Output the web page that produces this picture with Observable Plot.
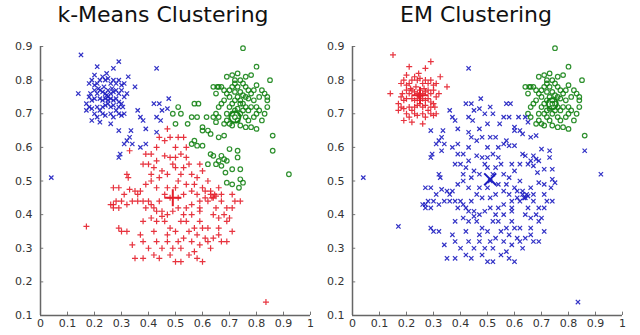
<!DOCTYPE html>
<html>
<head>
<meta charset="utf-8">
<script src="https://cdn.jsdelivr.net/npm/d3@7"></script>
<script src="https://cdn.jsdelivr.net/npm/@observablehq/plot@0.6"></script>
<style>
  html, body { margin: 0; padding: 0; background: #fff; }
  #wrap { position: relative; width: 640px; height: 335px; overflow: hidden; font-family: "DejaVu Sans", sans-serif; }
  .title { position: absolute; top: 0px; font-size: 22px; color: #111; white-space: nowrap; transform: translateX(-50%); line-height: 30px; }
  .panel { position: absolute; top: 0; }
</style>
</head>
<body>
<div id="wrap">
  <div class="title" id="t1" style="left:163px"></div>
  <div class="title" id="t2" style="left:476px"></div>
  <div class="panel" id="p1" style="left:0px"></div>
  <div class="panel" id="p2" style="left:320px"></div>
</div>
<script>
// ---- Data ----
const titles = ["k-Means Clustering", "EM Clustering"];
const xTicks = [0, 0.1, 0.2, 0.3, 0.4, 0.5, 0.6, 0.7, 0.8, 0.9, 1];
const xTickLabels = ["0", "0.1", "0.2", "0.3", "0.4", "0.5", "0.6", "0.7", "0.8", "0.9", "1"];
const yTicks = [0.1, 0.2, 0.3, 0.4, 0.5, 0.6, 0.7, 0.8, 0.9];
const yTickLabels = ["0.1", "0.2", "0.3", "0.4", "0.5", "0.6", "0.7", "0.8", "0.9"];

// top-left tight cluster
const groupA = [[0.15,0.875],[0.29,0.855],[0.21,0.84],[0.27,0.835],[0.245,0.82],[0.2,0.815],[0.325,0.81],[0.35,0.78],[0.14,0.76],[0.17,0.73],[0.19,0.68],[0.22,0.675],[0.26,0.67],[0.3,0.695],[0.31,0.70],[0.29,0.72],[0.32,0.76],
  [0.18,0.79],[0.19,0.80],[0.2,0.785],[0.21,0.79],[0.22,0.80],[0.23,0.81],[0.24,0.80],[0.25,0.805],[0.26,0.79],[0.27,0.80],[0.28,0.79],[0.29,0.80],[0.30,0.785],[0.31,0.79],
  [0.2,0.77],[0.21,0.76],[0.22,0.77],[0.23,0.765],[0.24,0.76],[0.25,0.77],[0.26,0.76],[0.27,0.765],[0.28,0.77],[0.29,0.76],[0.3,0.77],[0.31,0.75],
  [0.18,0.75],[0.19,0.74],[0.2,0.745],[0.22,0.745],[0.23,0.74],[0.24,0.745],[0.25,0.74],[0.26,0.745],[0.27,0.74],[0.28,0.745],[0.29,0.735],[0.3,0.73],
  [0.17,0.71],[0.18,0.72],[0.19,0.715],[0.21,0.72],[0.22,0.71],[0.23,0.72],[0.24,0.725],[0.25,0.73],[0.26,0.72],[0.27,0.725],[0.28,0.71],
  [0.2,0.70],[0.21,0.69],[0.23,0.70],[0.24,0.695],[0.26,0.70],[0.27,0.69],[0.29,0.70],[0.25,0.75],[0.245,0.755],[0.235,0.78],[0.265,0.775],[0.215,0.775],[0.185,0.76],[0.305,0.72]];
// top-right tight cluster
const groupB = [[0.75,0.895],[0.80,0.84],[0.85,0.80],[0.86,0.635],[0.78,0.815],[0.71,0.815],[0.69,0.81],[0.73,0.82],[0.66,0.78],[0.64,0.78],[0.655,0.78],[0.65,0.76],[0.67,0.78],[0.68,0.77],
  [0.83,0.76],[0.82,0.77],[0.84,0.75],[0.84,0.74],[0.84,0.72],[0.83,0.70],[0.82,0.68],[0.81,0.71],[0.80,0.72],[0.80,0.70],[0.79,0.69],[0.78,0.66],[0.8,0.655],[0.76,0.66],[0.74,0.665],
  [0.73,0.68],[0.72,0.69],[0.71,0.665],[0.70,0.67],[0.69,0.68],[0.68,0.67],[0.66,0.69],[0.65,0.70],[0.69,0.70],[0.70,0.72],[0.71,0.73],[0.72,0.74],[0.73,0.75],[0.74,0.74],
  [0.75,0.73],[0.76,0.72],[0.77,0.71],[0.78,0.72],[0.79,0.74],[0.78,0.76],[0.77,0.77],[0.76,0.78],[0.75,0.79],[0.74,0.80],[0.72,0.79],[0.71,0.78],[0.70,0.77],[0.69,0.76],
  [0.70,0.75],[0.72,0.765],[0.73,0.78],[0.74,0.765],[0.75,0.755],[0.76,0.75],[0.77,0.745],[0.75,0.71],[0.74,0.70],[0.73,0.715],[0.72,0.71],[0.76,0.69],[0.77,0.68],
  [0.71,0.70],[0.68,0.74],[0.67,0.73],[0.66,0.72],[0.72,0.80],[0.76,0.81],[0.8,0.785],[0.81,0.75],[0.79,0.77],[0.74,0.73]];
// bridge points between top-left cluster and centre
const groupC = [[0.43,0.835],[0.42,0.73],[0.44,0.73],[0.475,0.745],[0.47,0.715],[0.45,0.71],[0.36,0.71],[0.37,0.69],[0.38,0.68],[0.43,0.69],[0.445,0.68],
  [0.39,0.655],[0.335,0.65],[0.43,0.645],[0.33,0.63],[0.32,0.62],[0.34,0.61],[0.31,0.61],[0.29,0.65],[0.37,0.60],[0.39,0.61],[0.29,0.57],[0.295,0.58],[0.04,0.51]];
// bridge points between top-right cluster and centre
const groupD = [[0.51,0.72],[0.57,0.73],[0.585,0.73],[0.49,0.70],[0.52,0.70],[0.56,0.69],[0.58,0.69],[0.50,0.67],[0.545,0.67],[0.615,0.69],[0.64,0.69],
  [0.60,0.66],[0.60,0.65],[0.62,0.65],[0.65,0.675],[0.63,0.64],[0.66,0.63],[0.68,0.635],
  [0.56,0.61],[0.58,0.605],[0.60,0.605],[0.57,0.62],[0.63,0.58],[0.64,0.575],[0.67,0.575],[0.68,0.565],[0.66,0.56],[0.69,0.56],
  [0.62,0.55],[0.65,0.55],[0.67,0.545],[0.685,0.525],[0.71,0.535],[0.74,0.535],[0.70,0.595],[0.73,0.59],[0.73,0.57],
  [0.69,0.495],[0.71,0.49],[0.735,0.48],[0.75,0.495],[0.74,0.505],[0.86,0.59],[0.92,0.52]];
// central cluster
const groupE = [[0.47,0.655],[0.44,0.63],[0.48,0.63],[0.51,0.63],[0.53,0.63],[0.46,0.62],[0.50,0.60],[0.43,0.60],[0.41,0.58],[0.39,0.58],[0.46,0.575],[0.48,0.57],[0.50,0.57],[0.52,0.58],[0.54,0.60],[0.54,0.57],
  [0.40,0.55],[0.43,0.56],[0.50,0.54],[0.53,0.54],[0.45,0.53],[0.41,0.52],[0.47,0.52],[0.59,0.55],[0.60,0.53],[0.62,0.50],[0.58,0.51],[0.56,0.52],[0.51,0.50],[0.54,0.49],
  [0.27,0.48],[0.29,0.48],[0.32,0.52],[0.325,0.51],[0.33,0.475],[0.35,0.47],[0.36,0.46],[0.34,0.44],[0.36,0.44],[0.38,0.44],[0.40,0.44],[0.41,0.43],[0.43,0.41],[0.45,0.41],[0.47,0.40],
  [0.48,0.45],[0.51,0.45],[0.53,0.46],[0.56,0.47],[0.58,0.46],[0.61,0.47],[0.63,0.46],[0.64,0.45],[0.62,0.44],[0.67,0.46],[0.71,0.46],[0.72,0.44],[0.74,0.44],[0.69,0.42],[0.68,0.40],[0.70,0.39],
  [0.64,0.40],[0.59,0.41],[0.56,0.43],[0.54,0.42],[0.51,0.42],[0.46,0.38],[0.48,0.36],[0.52,0.38],[0.54,0.38],[0.57,0.36],[0.59,0.38],[0.62,0.36],[0.66,0.36],[0.69,0.38],[0.71,0.35],
  [0.29,0.36],[0.30,0.35],[0.32,0.35],[0.27,0.43],[0.28,0.44],[0.29,0.42],[0.30,0.44],[0.26,0.43],[0.27,0.42],
  [0.34,0.31],[0.37,0.34],[0.38,0.32],[0.40,0.30],[0.35,0.27],[0.38,0.27],[0.42,0.35],[0.43,0.32],[0.45,0.30],[0.42,0.28],[0.44,0.27],[0.47,0.32],[0.49,0.30],[0.50,0.26],[0.52,0.26],
  [0.51,0.32],[0.53,0.33],[0.52,0.30],[0.56,0.32],[0.57,0.29],[0.58,0.27],[0.60,0.26],[0.59,0.31],[0.62,0.32],[0.63,0.30],[0.66,0.34],[0.67,0.32],[0.69,0.32],
  [0.33,0.59],[0.38,0.55],[0.41,0.50],[0.43,0.48],[0.46,0.46],[0.47,0.48],[0.50,0.48],[0.59,0.44],[0.66,0.48],[0.67,0.44],[0.59,0.42],[0.41,0.39],[0.43,0.38],[0.38,0.38],[0.58,0.34],
  [0.63,0.47],[0.645,0.46],[0.65,0.455],[0.635,0.45],[0.17,0.365],[0.835,0.14],
  [0.42,0.54],[0.44,0.51],[0.49,0.55],[0.52,0.52],[0.55,0.55],[0.57,0.49],[0.60,0.48],[0.61,0.45],[0.44,0.44],[0.42,0.42],[0.45,0.395],[0.49,0.41],[0.53,0.40],
  [0.56,0.40],[0.60,0.36],[0.61,0.33],[0.55,0.35],[0.50,0.35],[0.47,0.34],[0.39,0.42],[0.37,0.47],[0.39,0.49],[0.31,0.46],[0.32,0.43],[0.65,0.42],[0.66,0.39],[0.71,0.42],[0.48,0.28],[0.55,0.28],[0.64,0.33]];
// cluster centres, drawn larger
const centresKM = [["red",0.49,0.45],["green",0.72,0.69]];
const centresEM = [["red",0.25,0.755],["green",0.74,0.73],["blue",0.51,0.505]];

// ---- style ----
const colour = {blue: "#1c1cc0", red: "#e41e2a", green: "#178417"};
const symbolOf = {blue: "times", red: "plus", green: "circle"};

const km = {A: "blue", C: "blue", E: "red", B: "green", D: "green"};
const em = {A: "red", B: "green", C: "blue", D: "blue", E: "blue"};
const groups = {A: groupA, B: groupB, C: groupC, D: groupD, E: groupE};

function pointsFor(assign) {
  const out = [];
  for (const k of Object.keys(groups)) for (const [x, y] of groups[k]) out.push({x, y, c: assign[k]});
  return out;
}

function panel(assign, centres, ml, mr) {
  const pts = pointsFor(assign);
  const cen = centres.map(([c, x, y]) => ({c, x, y}));
  const dotMarks = ["green", "red", "blue"].map(c =>
    Plot.dot(pts.filter(d => d.c === c), {x: "x", y: "y", symbol: symbolOf[c], stroke: colour[c], fill: "none", r: c === "green" ? 2.3 : 2.1, strokeWidth: 1.2, strokeOpacity: 0.9})
  );
  const cenMarks = cen.map(d =>
    Plot.dot([d], {x: "x", y: "y", symbol: symbolOf[d.c], stroke: colour[d.c], fill: "none", r: 5.5, strokeWidth: 2})
  );
  return Plot.plot({
    width: 320, height: 335,
    marginTop: 46, marginBottom: 20, marginLeft: ml, marginRight: mr,
    style: {fontFamily: "DejaVu Sans, sans-serif", fontSize: "11px", color: "#333", background: "transparent", overflow: "visible"},
    x: {domain: [0, 1], ticks: xTicks, tickSize: 0, tickPadding: 4, tickFormat: (d, i) => xTickLabels[i], label: null},
    y: {domain: [0.1, 0.9], ticks: yTicks, tickSize: 0, tickPadding: 8, tickFormat: (d, i) => yTickLabels[i], label: null},
    marks: [
      ...dotMarks,
      ...cenMarks,
      Plot.ruleX(xTicks, {y1: 0.1, y2: 0.11, stroke: "#777", strokeWidth: 1}),
      Plot.ruleY(yTicks, {x1: 0, x2: 0.012, stroke: "#777", strokeWidth: 1}),
      Plot.ruleX([0], {y1: 0.1, y2: 0.9, stroke: "#666", strokeWidth: 1.5}),
      Plot.ruleY([0.1], {x1: 0, x2: 1, stroke: "#666", strokeWidth: 1.5})
    ]
  });
}

document.getElementById("t1").textContent = titles[0];
document.getElementById("t2").textContent = titles[1];
document.getElementById("p1").appendChild(panel(km, centresKM, 40, 10));
document.getElementById("p2").appendChild(panel(em, centresEM, 32, 18));
</script>
</body>
</html>
